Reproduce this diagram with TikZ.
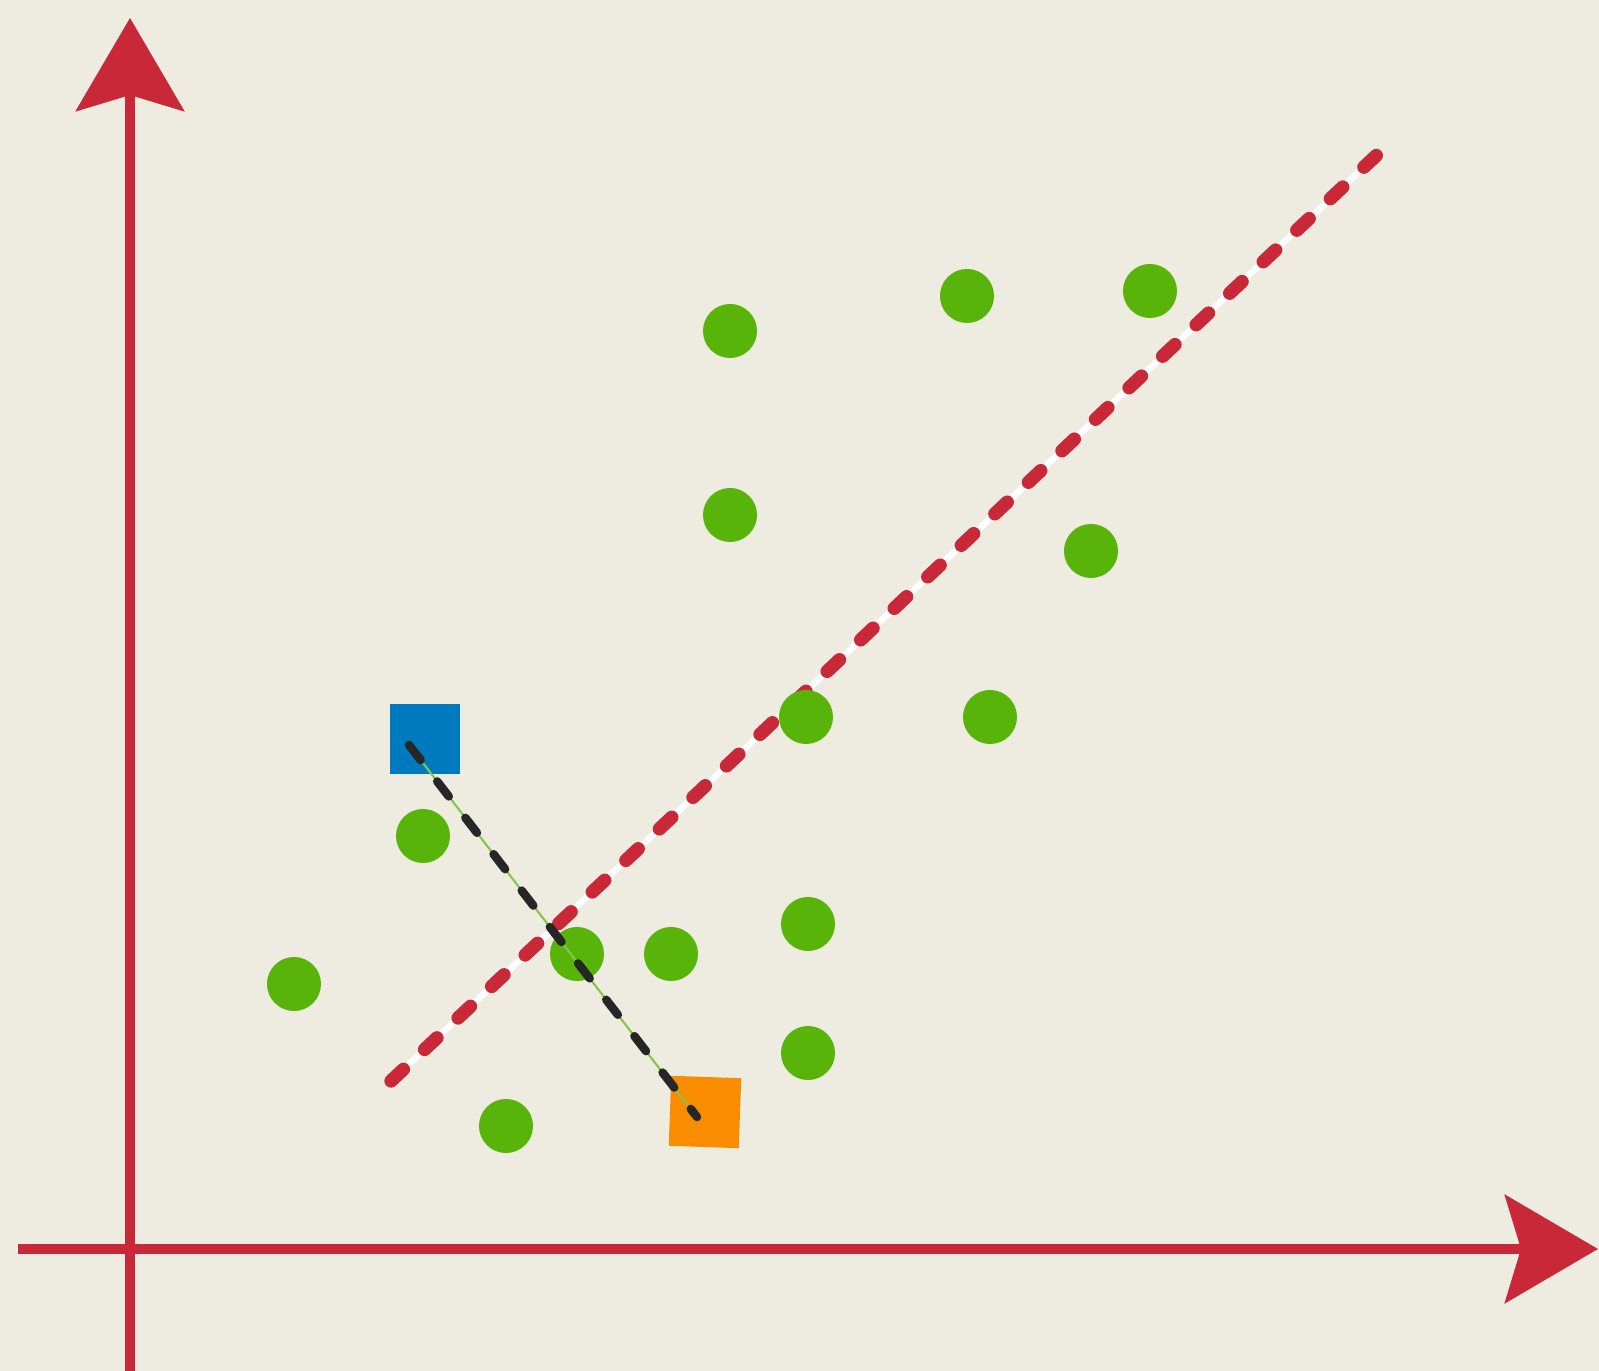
\documentclass[tikz,border=0pt]{standalone}
\usetikzlibrary{arrows.meta}
\definecolor{paper}{RGB}{238,235,225}
\definecolor{axisred}{RGB}{200,40,55}
\definecolor{dotgreen}{RGB}{88,180,8}
\definecolor{sqblue}{RGB}{0,122,190}
\definecolor{sqorange}{RGB}{250,140,0}
\tikzset{
 dot/.style={circle,fill=dotgreen,inner sep=0pt,minimum size=.54cm},
 sample/.style={inner sep=0pt,minimum size=.70cm},
 axis/.style={axisred,line width=2.6pt,
  -{Stealth[length=.93cm,width=1.08cm,inset=.16cm]}},
}

\begin{document}
\begin{tikzpicture}[x=.01cm,y=-.01cm]
 \fill[paper] (0,0) rectangle (1599,1371);
 \useasboundingbox (0,0) rectangle (1599,1371);
 % axes
 \coordinate (yfoot) at (130,1371);
 \coordinate (ytip) at (130,18);
 \coordinate (xfoot) at (18,1249);
 \coordinate (xtip) at (1598,1249);
 \draw[axis] (xfoot)--(xtip);
 \draw[axis] (yfoot)--(ytip);
 % separating line
 \coordinate (sepA) at (391,1081);
 \coordinate (sepB) at (1379,153);
 \draw[white,line width=1.8pt] (sepA)--(sepB);
 \draw[axisred,line width=3.8pt,line cap=round,dash pattern=on .17cm off .29cm] (sepA)--(sepB);
 % points
 \foreach \px/\py [count=\i] in {730/331,967/296,1150/291,730/515,1091/551,
  806/717,990/717,423/836,294/984,577/954,671/954,808/924,808/1053,506/1126}{
  \node[dot] (p\i) at (\px,\py) {};
 }
 \node[sample,fill=sqblue] (blue) at (425,739) {};
 \node[sample,fill=sqorange,rotate=-2] (orange) at (705,1112) {};
 \coordinate (bend) at (409,745);
 \coordinate (oend) at (697,1117);
 \draw[dotgreen!70!paper,line width=.6pt] (bend)--(oend);
 \draw[black!85,line width=2.4pt,line cap=round,dash pattern=on .19cm off .27cm] (bend)--(oend);
\end{tikzpicture}
\end{document}
